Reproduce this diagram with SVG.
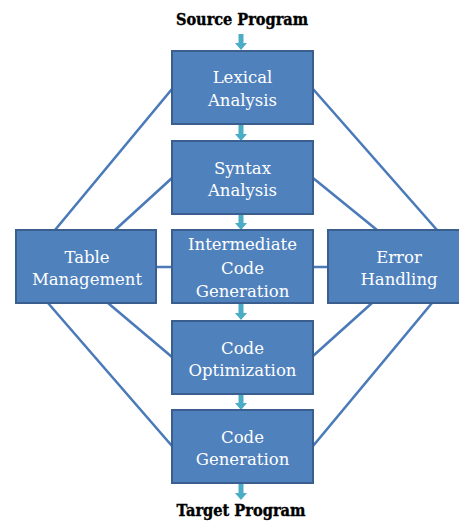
<svg xmlns="http://www.w3.org/2000/svg" width="459" height="522" viewBox="0 0 459 522">
<style>
.box{fill:#4f81bd;stroke:#3a5f8e;stroke-width:2}
.lbl{font-family:"DejaVu Serif","Liberation Serif",serif;font-size:16.5px;fill:#ffffff;text-anchor:middle}
.io{font-family:"DejaVu Serif","Liberation Serif",serif;font-size:16px;font-weight:bold;fill:#000000;stroke:#000000;stroke-width:0.4;text-anchor:middle}
.ln{stroke:#4a7ab8;stroke-width:2.6;fill:none;stroke-linecap:round}
.arr{fill:#4bacc6}
</style>
<defs>
<path id="arrow" d="M-2.5,0 H2.5 V9 H6 L0,16 L-6,9 H-2.5 Z"/>
</defs>
<g id="connectors">
<line class="ln" x1="55" y1="230" x2="172" y2="89"/>
<line class="ln" x1="115" y1="230" x2="172" y2="178"/>
<line class="ln" x1="48" y1="303" x2="172" y2="446"/>
<line class="ln" x1="108" y1="303" x2="172" y2="357"/>
<line class="ln" x1="313" y1="89" x2="437" y2="230"/>
<line class="ln" x1="313" y1="178" x2="377" y2="230"/>
<line class="ln" x1="372" y1="303" x2="313" y2="356"/>
<line class="ln" x1="432" y1="303" x2="313" y2="446"/>
<line class="ln" x1="156" y1="267" x2="172" y2="267"/>
<line class="ln" x1="313" y1="267" x2="328" y2="267"/>
<use href="#arrow" class="arr" x="241" y="34"/>
<use href="#arrow" class="arr" x="241" y="125"/>
<use href="#arrow" class="arr" x="241" y="214"/>
<use href="#arrow" class="arr" x="241" y="304"/>
<use href="#arrow" class="arr" x="241" y="394"/>
<use href="#arrow" class="arr" x="241" y="484"/>
</g>
<g id="source">
<text class="io" x="242" y="25" textLength="132" lengthAdjust="spacingAndGlyphs">Source Program</text>
</g>
<g id="lexical">
<rect class="box" x="172" y="51" width="141" height="73"/>
<text class="lbl" x="242.5" y="83">Lexical</text>
<text class="lbl" x="242.5" y="106">Analysis</text>
</g>
<g id="syntax">
<rect class="box" x="172" y="141" width="141" height="73"/>
<text class="lbl" x="242.5" y="173.5">Syntax</text>
<text class="lbl" x="242.5" y="196">Analysis</text>
</g>
<g id="table">
<rect class="box" x="16" y="230" width="140" height="73"/>
<text class="lbl" x="87" y="263">Table</text>
<text class="lbl" x="87" y="285">Management</text>
</g>
<g id="intermediate">
<rect class="box" x="172" y="230" width="141" height="73"/>
<text class="lbl" x="242.5" y="250">Intermediate</text>
<text class="lbl" x="242.5" y="274">Code</text>
<text class="lbl" x="242.5" y="297">Generation</text>
</g>
<g id="error">
<rect class="box" x="328" y="230" width="141" height="73"/>
<text class="lbl" x="399" y="263">Error</text>
<text class="lbl" x="399" y="285">Handling</text>
</g>
<g id="optimization">
<rect class="box" x="172" y="321" width="141" height="73"/>
<text class="lbl" x="242.5" y="353.5">Code</text>
<text class="lbl" x="242.5" y="376">Optimization</text>
</g>
<g id="generation">
<rect class="box" x="172" y="410" width="141" height="73"/>
<text class="lbl" x="242.5" y="442.5">Code</text>
<text class="lbl" x="242.5" y="465">Generation</text>
</g>
<g id="target">
<text class="io" x="241" y="516" textLength="129" lengthAdjust="spacingAndGlyphs">Target Program</text>
</g>
</svg>
